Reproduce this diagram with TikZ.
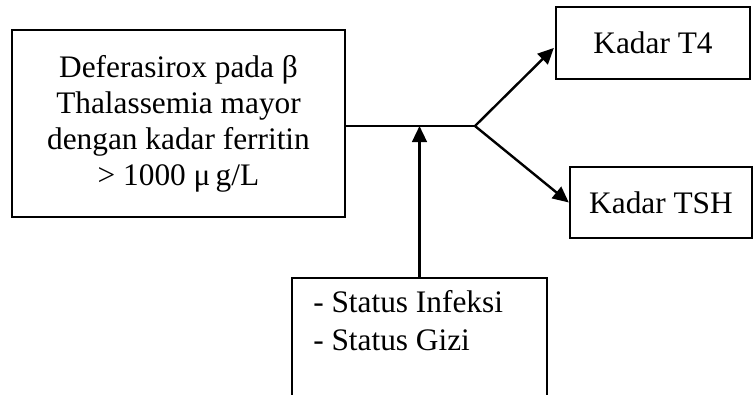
\documentclass[tikz,border=0pt]{standalone}
\usepackage{fontspec}
\setmainfont{Liberation Serif}
\usetikzlibrary{arrows.meta}

\tikzset{
  box/.style={draw, line width=1.8pt, rectangle, inner sep=0pt, align=center,
    font=\fontsize{23.5pt}{27pt}\selectfont},
  plain/.style={inner sep=0pt, align=left, font=\fontsize{23.5pt}{28.5pt}\selectfont},
  link/.style={line width=1.8pt},
  arrow/.style={line width=1.8pt, -{Triangle[length=12pt,width=11pt]}},
}

\begin{document}
\begin{tikzpicture}[x=0.75pt,y=-0.75pt]
  \useasboundingbox (0,0) rectangle (753,394);
  \clip (0,0) rectangle (753,394);

  % main intervention box
  \node[box, minimum width=333*0.75pt, minimum height=187*0.75pt] (main) at (178.5,123.5)
    {Deferasirox pada β\\Thalassemia mayor\\dengan kadar ferritin\\> 1000 μ\,g/L};

  % outcome boxes
  \node[box, minimum width=194*0.75pt, minimum height=72*0.75pt] (t4) at (653,43) {Kadar T4};
  \node[box, minimum width=182*0.75pt, minimum height=71*0.75pt] (tsh) at (661,202.5) {Kadar TSH};

  % confounders box, open past the lower edge
  \node[box, anchor=north, minimum width=255*0.75pt, minimum height=160*0.75pt] (conf) at (419.5,277) {};
  \node[plain, anchor=north west] (conftext) at (313,290)
    {- Status Infeksi\\- Status Gizi};

  % junction where the path splits
  \coordinate (j) at (475,126);

  \draw[link] (main.east |- j) -- (j);
  \draw[arrow] (conf.north) -- (conf.north |- j);
  \draw[arrow, shorten >=1pt] (j) -- ([yshift=-3pt]t4.west);
  \draw[arrow] (j) -- (tsh.west);
\end{tikzpicture}
\end{document}
